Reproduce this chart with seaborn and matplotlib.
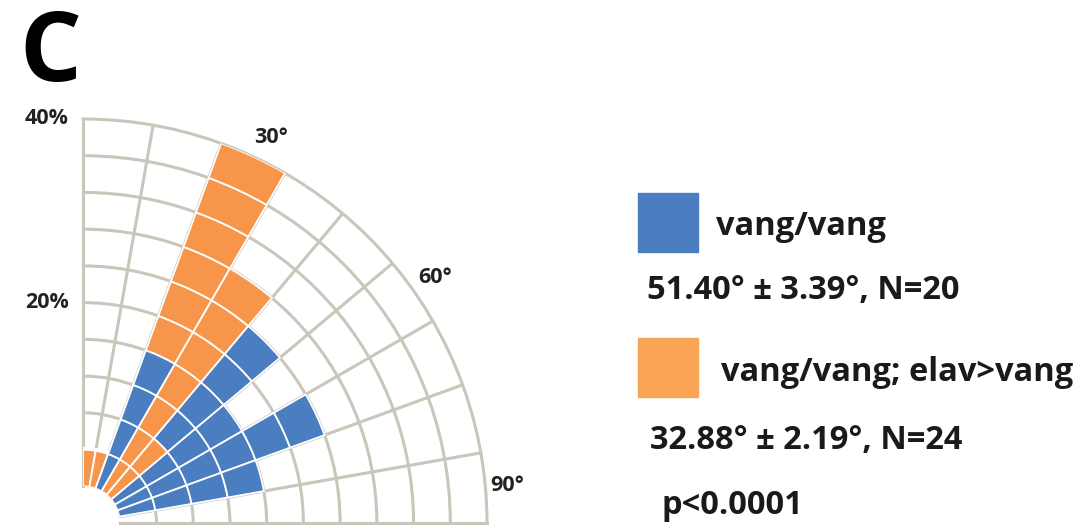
import numpy as np
import matplotlib
matplotlib.use("Agg")
import matplotlib.pyplot as plt
from matplotlib.patches import Rectangle
import seaborn as sns

sns.set_theme(style="white")
plt.rcParams['font.family'] = ['Open Sans', 'DejaVu Sans']

# 10-degree angle bins (start of each bin) and percentage of animals per bin
bin_starts = [0, 10, 20, 30, 40, 50, 60, 70, 80]
blue_pct = [0, 0, 16, 0, 24, 16, 24, 16, 0]
orange_pct = [4.2, 4.2, 40, 28, 8, 0, 0, 0, 0]

series_labels = ["vang/vang", "vang/vang; elav>vang"]
series_stats = ["51.40° ± 3.39°, N=20", "32.88° ± 2.19°, N=24"]
p_text = "p<0.0001"
panel_letter = "C"
angle_labels = ["30°", "60°", "90°"]
pct_labels = ["40%", "20%"]

blue = "#4A7EC1"
orange = "#F7964A"
orange_key = "#F9A555"
grid_c = "#C9C6BB"

ring_step = 4
r_max = 40
bin_width = 10

W, H = 1088, 529
fig = plt.figure(figsize=(W / 100, H / 100), dpi=100)
fig.patch.set_facecolor("white")

# quadrant rose: centre at lower-left, 0 deg pointing up, clockwise to 90 deg
cx, cy, R = 83, 523, 404
ax = fig.add_axes([cx / W, (H - cy) / H, R / W, R / H], projection="polar")
ax.set_theta_zero_location("N")
ax.set_theta_direction(-1)
ax.set_thetamin(0)
ax.set_thetamax(90)
ax.set_ylim(0, r_max)
ax.set_rorigin(-4.0)
ax.set_facecolor("white")

ax.set_thetagrids(np.arange(0, 91, 10), labels=[])
ax.set_rgrids(np.arange(ring_step, r_max, ring_step), labels=[])
ax.grid(True, color=grid_c, linewidth=2.2)
ax.tick_params(length=0)
ax.set_axisbelow(True)
for name in ("polar", "start", "end"):
    ax.spines[name].set_color(grid_c)
    ax.spines[name].set_linewidth(2.2)
ax.spines["inner"].set_visible(False)
ax.spines["inner"].set_linewidth(0)
ax.spines["inner"].set_color("white")


def draw_cells(theta0, value, color, z):
    k = 0
    while k * ring_step < value - 1e-9:
        bottom = k * ring_step
        h = min(ring_step, value - bottom)
        ax.bar(np.deg2rad(theta0 + bin_width / 2), h, width=np.deg2rad(bin_width),
               bottom=bottom, color=color, edgecolor="white", linewidth=1.3,
               zorder=z)
        k += 1


# in each bin the shorter bar is drawn in front of the taller one
for t0, b, o in zip(bin_starts, blue_pct, orange_pct):
    zb, zo = (4, 3) if b <= o else (3, 4)
    draw_cells(t0, o, orange, zo)
    draw_cells(t0, b, blue, zb)

# angle labels just outside the outer ring
angle_pos = [(26.0, 42.7), (55.1, 42.8), (84.9, 42.4)]
for txt, (th, r) in zip(angle_labels, angle_pos):
    ax.text(np.deg2rad(th), r, txt, ha="center", va="center", fontsize=15.5,
            fontweight="bold", color="#222222", clip_on=False)

# radial percentage labels left of the 0-degree spoke
for txt, r in zip(pct_labels, [40, 20]):
    ax.annotate(txt, xy=(0, r), xytext=(-36, 0), textcoords="offset pixels",
                ha="center", va="center", fontsize=15.5, fontweight="bold",
                color="#222222", annotation_clip=False)


def px(x, y):
    return x / W, 1 - y / H


fig.text(*px(19, 81), panel_letter, fontsize=70, fontweight="bold",
         color="black", ha="left", va="baseline")

# key
for (y0, col) in [(193, blue), (338, orange_key)]:
    fig.patches.append(Rectangle(px(638, y0 + 59), 60 / W, 59 / H,
                                 transform=fig.transFigure, color=col))

text_kw = dict(fontsize=23.5, fontweight="bold", color="#1a1a1a",
               ha="left", va="baseline")
fig.text(*px(716, 235), series_labels[0], **text_kw)
fig.text(*px(647, 299), series_stats[0], **text_kw)
fig.text(*px(721, 381), series_labels[1], **text_kw)
fig.text(*px(650, 449), series_stats[1], **text_kw)
fig.text(*px(661, 514), p_text, **text_kw)

fig.savefig("out.png", dpi=100, facecolor="white")
